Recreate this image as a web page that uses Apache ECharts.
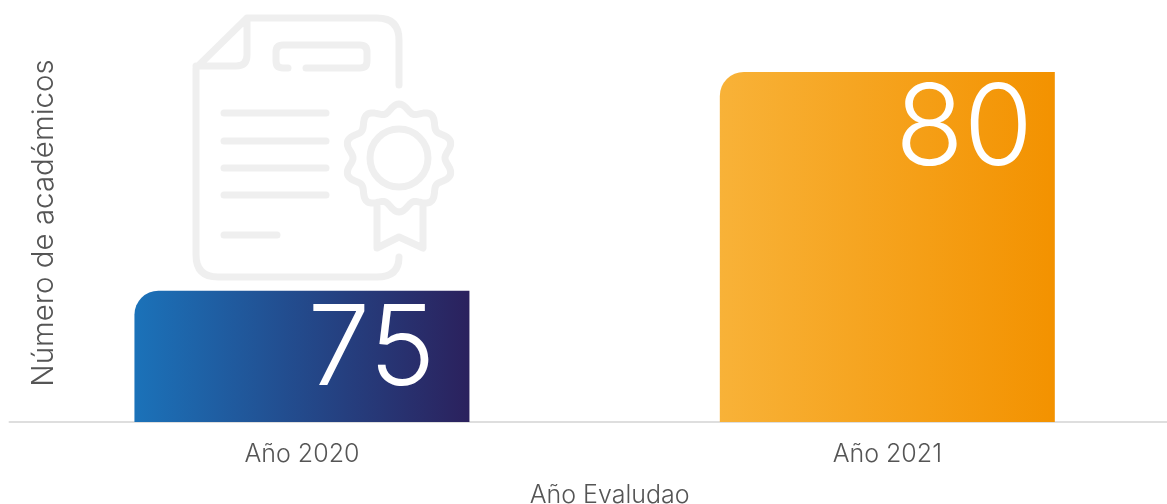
<!DOCTYPE html>
<html><head><meta charset="utf-8">
<style>html,body{margin:0;padding:0;background:#fff}#c{width:1167px;height:504px}</style>
<script src="https://cdn.jsdelivr.net/npm/echarts@6/dist/echarts.min.js"></script>
</head><body><div id="c"></div>
<script>
const categories = ['Año 2020', 'Año 2021'];
const values = [75, 80];
const gradients = [['#1b72b9', '#2b215d'], ['#f8b238', '#f39200']];
const labelOffsets = [[-34, 5], [-22, 3]];
const xTitle = 'Año Evaludao';
const yTitle = 'Número de académicos';
const FONT = 'Inter, "Open Sans", sans-serif';

function sealPath(cx, cy) {
  let d = '';
  for (let i = 0; i <= 240; i++) {
    const t = i / 240 * Math.PI * 2;
    const r = 50 + 4 * Math.cos(10 * t);
    const x = cx + r * Math.sin(t), y = cy - r * Math.cos(t);
    d += (i ? 'L' : 'M') + x.toFixed(1) + ' ' + y.toFixed(1) + ' ';
  }
  return d + 'Z ';
}
const iconPath =
  'M399 85 V40 Q399 18 377 18 H247 L196 68 V255 Q196 277 218 277 H377 Q399 277 399 257 ' +
  'M247 18 V55 Q247 66 236 66 H196 ' +
  'M288 68 H283 Q276 68 276 61 V52 Q276 45 283 45 H360 Q367 45 367 52 V61 Q367 68 360 68 H306 ' +
  'M224 113 H326 M224 141 H326 M224 168 H326 M224 195 H326 M224 235 H277 ' +
  'M377 207 V248 L399 237 L423 248 V207 ' +
  sealPath(399, 158);
echarts.graphic.registerShape('certIcon', echarts.graphic.extendPath(iconPath, {}));

const chart = echarts.init(document.getElementById('c'), null, {renderer: 'canvas'});
chart.setOption({
  animation: false,
  backgroundColor: '#fff',
  grid: {left: 9.25, right: -13, top: 72, bottom: 82, containLabel: false, outerBoundsMode: 'none'},
  graphic: [
    {type: 'certIcon', z: -1, silent: true,
     style: {fill: 'none', stroke: '#efefef', lineWidth: 7, lineCap: 'round', lineJoin: 'round'}},
    {type: 'circle', z: -1, silent: true, shape: {cx: 399, cy: 158, r: 29},
     style: {fill: 'none', stroke: '#efefef', lineWidth: 7}}
  ],
  xAxis: {
    type: 'category', data: categories,
    name: xTitle, nameLocation: 'middle', nameGap: 61,
    nameTextStyle: {fontFamily: FONT, fontSize: 25, fontWeight: 300, color: '#555', padding: [0, 0, 0, 30]},
    axisTick: {show: false},
    axisLine: {lineStyle: {color: '#d4d4d4', width: 1.5}},
    axisLabel: {fontFamily: FONT, fontSize: 25, fontWeight: 300, color: '#555', margin: 20, interval: 0}
  },
  yAxis: {
    type: 'value', min: 72, max: 80,
    name: yTitle, nameLocation: 'middle', nameGap: -50,
    nameTextStyle: {fontFamily: FONT, fontSize: 29.5, fontWeight: 300, color: '#555', padding: [0, 0, 0, 48]},
    axisLine: {show: false}, axisTick: {show: false}, axisLabel: {show: false}, splitLine: {show: false}
  },
  series: [{
    type: 'bar', barWidth: 335,
    data: values.map((v, i) => ({
      value: v,
      label: {offset: labelOffsets[i]},
      itemStyle: {
        borderRadius: [24, 0, 0, 0],
        color: new echarts.graphic.LinearGradient(0, 0, 1, 0, [
          {offset: 0, color: gradients[i][0]}, {offset: 1, color: gradients[i][1]}
        ])
      }
    })),
    label: {
      show: true, position: 'insideTopRight', distance: 0,
      fontFamily: FONT, fontSize: 112, fontWeight: 300, color: '#fff'
    }
  }]
});
</script></body></html>
